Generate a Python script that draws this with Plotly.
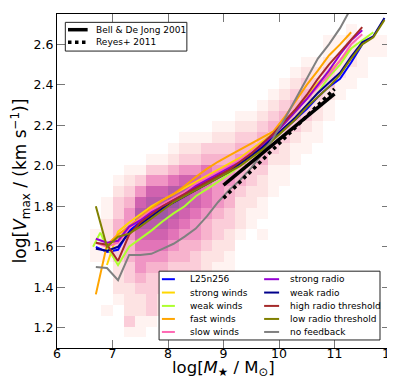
import plotly.graph_objects as go

# 2d histogram behind the lines: 30 x 30 bins, x 6-12 (0.2 wide), y 1.1-2.7
# column -> (first row, shade level 1-9 for each row going up)
n_bins = 30
hist_cols = {
    3: (8, [1, 1, 1]),
    4: (3, [1, 0, 0, 0, 0, 1, 2, 2, 2, 1, 1]),
    5: (2, [0, 0, 1, 2, 2, 2, 3, 3, 4, 4, 3, 3, 2, 1]),
    6: (1, [1, 3, 2, 2, 2, 3, 3, 4, 4, 5, 5, 5, 4, 3, 2, 1]),
    7: (1, [1, 1, 2, 2, 3, 4, 5, 5, 6, 7, 8, 8, 7, 5, 3, 1]),
    8: (2, [1, 3, 3, 3, 3, 4, 5, 6, 7, 8, 9, 8, 7, 5, 3, 1]),
    9: (3, [2, 2, 3, 3, 4, 5, 6, 7, 8, 9, 8, 7, 5, 3, 1]),
    10: (4, [2, 2, 3, 3, 4, 5, 6, 7, 8, 9, 8, 6, 4, 2, 1]),
    11: (5, [2, 2, 3, 4, 4, 5, 6, 7, 8, 8, 7, 5, 3, 2, 1]),
    12: (5, [2, 2, 3, 3, 4, 5, 5, 6, 7, 7, 7, 5, 3, 2, 1]),
    13: (6, [2, 2, 2, 3, 4, 4, 5, 6, 6, 6, 6, 4, 3, 1]),
    14: (6, [1, 1, 2, 2, 3, 3, 4, 5, 5, 5, 5, 4, 3, 2, 1]),
    15: (7, [1, 1, 2, 2, 3, 3, 4, 4, 5, 5, 4, 3, 2, 1]),
    16: (10, [1, 2, 2, 2, 3, 4, 4, 5, 4, 3, 2, 1]),
    17: (11, [1, 1, 2, 2, 3, 3, 4, 4, 3, 2, 1]),
    18: (10, [1, 0, 1, 1, 2, 2, 3, 4, 4, 4, 3, 2, 1]),
    19: (14, [1, 1, 1, 2, 3, 3, 4, 3, 2, 1]),
    20: (15, [1, 1, 2, 2, 3, 4, 4, 3, 2, 1]),
    21: (17, [1, 1, 2, 3, 4, 4, 3, 2, 1]),
    22: (18, [1, 1, 2, 3, 3, 4, 3, 2, 1]),
    23: (19, [1, 1, 2, 2, 3, 3, 2, 1]),
    24: (21, [1, 1, 2, 3, 3, 2, 1, 1]),
    25: (23, [1, 1, 2, 2, 1, 1]),
    26: (24, [1, 1, 2, 2, 2, 1]),
    27: (25, [1, 1, 1, 1]),
    28: (27, [1, 1]),
    29: (27, [1, 1]),
}

mass_bins = [6.7, 6.9, 7.1, 7.3, 7.5, 7.7, 7.9, 8.1, 8.3, 8.5, 8.7, 8.9, 9.1, 9.3,
             9.5, 9.7, 9.9, 10.1, 10.3, 10.5, 10.7, 10.9, 11.1, 11.3, 11.5, 11.7, 11.9]

l25n256 = [1.60, 1.575, 1.585, 1.68, 1.72, 1.76, 1.79, 1.82, 1.85, 1.89, 1.92, 1.95, 1.98,
           2.01, 2.05, 2.09, 2.13, 2.18, 2.23, 2.28, 2.34, 2.39, 2.43, 2.51, 2.60]
strong_winds = [1.51, 1.675, 1.72, 1.76, 1.80, 1.83, 1.86, 1.89, 1.92, 1.95, 1.98, 2.01,
                2.04, 2.08, 2.12, 2.16, 2.21, 2.27, 2.34, 2.41, 2.46, 2.52, 2.58]
weak_winds_x = [6.65, 6.78] + mass_bins[1:26]
weak_winds = [1.60, 1.67, 1.60, 1.51, 1.60, 1.64, 1.68, 1.725, 1.765, 1.80, 1.85, 1.885,
              1.92, 1.96, 2.00, 2.04, 2.08, 2.13, 2.18, 2.24, 2.30, 2.36, 2.44, 2.50, 2.58,
              2.62, 2.66]
fast_winds = [1.365, 1.61, 1.66, 1.70, 1.745, 1.79, 1.83, 1.86, 1.90, 1.945, 1.985, 2.02,
              2.05, 2.08, 2.11, 2.14, 2.17, 2.24, 2.32, 2.40, 2.47, 2.545, 2.60, 2.66]
slow_winds = [1.62, 1.60, 1.62, 1.69, 1.74, 1.78, 1.81, 1.84, 1.87, 1.91, 1.94, 1.97, 2.00,
              2.03, 2.07, 2.11, 2.16, 2.22, 2.28, 2.33, 2.39, 2.45, 2.52, 2.60, 2.65]
strong_radio = [1.64, 1.62, 1.63, 1.70, 1.73, 1.77, 1.80, 1.83, 1.86, 1.90, 1.93, 1.96, 1.99,
                2.02, 2.06, 2.10, 2.15, 2.21, 2.27, 2.33, 2.40, 2.47, 2.55, 2.62, 2.67]
weak_radio = [1.59, 1.58, 1.60, 1.67, 1.71, 1.75, 1.79, 1.82, 1.85, 1.88, 1.91, 1.94, 1.97,
              2.01, 2.05, 2.09, 2.14, 2.19, 2.24, 2.30, 2.36, 2.41, 2.46, 2.54, 2.61, 2.64, 2.73]
high_radio = [1.62, 1.61, 1.53, 1.66, 1.72, 1.76, 1.80, 1.83, 1.86, 1.89, 1.92, 1.95, 1.98,
              2.02, 2.06, 2.11, 2.16, 2.22, 2.28, 2.35, 2.43, 2.50, 2.56, 2.62, 2.685]
low_radio = [1.80, 1.60, 1.65, 1.665, 1.70, 1.74, 1.78, 1.82, 1.85, 1.88, 1.91, 1.94, 1.97,
             2.00, 2.04, 2.08, 2.13, 2.18, 2.23, 2.29, 2.34, 2.39, 2.45, 2.53, 2.60, 2.635, 2.72]
no_feedback = [1.50, 1.495, 1.435, 1.56, 1.56, 1.565, 1.59, 1.615, 1.65, 1.69, 1.75, 1.82,
               1.88, 1.93, 1.99, 2.06, 2.14, 2.23, 2.33, 2.43, 2.53, 2.60, 2.68, 2.78]

bell_x = [9.0, 11.0]
bell_y = [1.905, 2.355]
reyes_x = [9.0, 11.0]
reyes_y = [1.84, 2.38]

z = [[None] * n_bins for _ in range(n_bins)]
for col, (row0, vals) in hist_cols.items():
    for i, v in enumerate(vals):
        if v:
            z[row0 + i][col] = v

shades = [[0.0, '#ffffff'], [0.111, '#fff3f1'], [0.222, '#fde3e3'], [0.333, '#fbcdd9'],
          [0.444, '#f7b3cd'], [0.556, '#f095c4'], [0.667, '#e274b8'], [0.778, '#d062af'],
          [0.889, '#b85ba9'], [1.0, '#9e58a4']]

fig = go.Figure()
fig.add_trace(go.Heatmap(z=z, x0=6.1, dx=0.2, y0=1.1 + 0.8 / 30, dy=1.6 / 30,
                         zmin=0, zmax=9, colorscale=shades, showscale=False,
                         hoverinfo='skip'))

sims = [
    ('L25n256', '#0000ff', mass_bins[:len(l25n256)], l25n256),
    ('strong winds', '#ffd700', mass_bins[1:1 + len(strong_winds)], strong_winds),
    ('weak winds', '#adff2f', weak_winds_x, weak_winds),
    ('fast winds', '#ffa500', mass_bins[:len(fast_winds)], fast_winds),
    ('slow winds', '#ff69b4', mass_bins[:len(slow_winds)], slow_winds),
    ('strong radio', '#9400d3', mass_bins[:len(strong_radio)], strong_radio),
    ('weak radio', '#00008b', mass_bins[:len(weak_radio)], weak_radio),
    ('high radio threshold', '#a52a2a', mass_bins[:len(high_radio)], high_radio),
    ('low radio threshold', '#808000', mass_bins[:len(low_radio)], low_radio),
    ('no feedback', '#808080', mass_bins[:len(no_feedback)], no_feedback),
]
for name, color, xs, ys in sims:
    fig.add_trace(go.Scatter(x=xs, y=ys, mode='lines', name=name, showlegend=False,
                             line=dict(color=color, width=2)))

fig.add_trace(go.Scatter(x=bell_x, y=bell_y, mode='lines', showlegend=False,
                         line=dict(color='black', width=3.5)))
fig.add_trace(go.Scatter(x=reyes_x, y=reyes_y, mode='lines', showlegend=False,
                         line=dict(color='black', width=3.5, dash='dot')))

# hand drawn legends (matplotlib style boxes)
shapes = []
annotations = []
font = dict(family='DejaVu Sans', size=9, color='black')

shapes.append(dict(type='rect', xref='paper', yref='paper', x0=0.025, x1=0.39,
                   y0=0.889, y1=0.975, fillcolor='white', line=dict(color='#222', width=1),
                   layer='above'))
for yy, label, dash in [(0.953, 'Bell & De Jong 2001', 'solid'), (0.9155, 'Reyes+ 2011', 'dot')]:
    shapes.append(dict(type='line', xref='paper', yref='paper', x0=0.033, x1=0.092,
                       y0=yy, y1=yy, line=dict(color='black', width=3.5, dash=dash),
                       layer='above'))
    annotations.append(dict(text=label, xref='paper', yref='paper', x=0.112, y=yy,
                            xanchor='left', yanchor='middle', showarrow=False, font=font))

shapes.append(dict(type='rect', xref='paper', yref='paper', x0=0.3065, x1=0.97,
                   y0=0.024, y1=0.23, fillcolor='white', line=dict(color='#222', width=1),
                   layer='above'))
rows_y = [0.206, 0.166, 0.126, 0.087, 0.048]
for i, (name, color, xs, ys) in enumerate(sims):
    col = i // 5
    yy = rows_y[i % 5]
    lx0, lx1, tx = (0.315, 0.354, 0.393) if col == 0 else (0.622, 0.667, 0.6925)
    shapes.append(dict(type='line', xref='paper', yref='paper', x0=lx0, x1=lx1,
                       y0=yy, y1=yy, line=dict(color=color, width=2), layer='above'))
    annotations.append(dict(text=name, xref='paper', yref='paper', x=tx, y=yy,
                            xanchor='left', yanchor='middle', showarrow=False, font=font))

# x axis title placed by hand so it fits in the short bottom margin
annotations.append(dict(text='log[<i>M</i><sub>★</sub> / M<sub>⊙</sub>]',
                        xref='paper', yref='paper', x=0.5, y=-0.06, xanchor='center',
                        yanchor='middle', showarrow=False,
                        font=dict(family='DejaVu Sans', size=16.5, color='black')))

axis_common = dict(showgrid=False, zeroline=False, showline=True, linecolor='black',
                   linewidth=1, mirror='allticks', ticks='inside', ticklen=8,
                   tickcolor='#777', tickfont=dict(family='DejaVu Sans', size=12.5,
                                                   color='black'))

fig.update_layout(
    width=395, height=379,
    margin=dict(l=49, r=10, t=5, b=39),
    plot_bgcolor='white', paper_bgcolor='white',
    font=dict(family='DejaVu Sans', color='black'),
    shapes=shapes, annotations=annotations,
    xaxis=dict(range=[6, 12], tickvals=[6, 7, 8, 9, 10, 11, 12], ticklabelstandoff=-6,
               **axis_common),
    yaxis=dict(range=[1.1, 2.75], tickvals=[1.2, 1.4, 1.6, 1.8, 2.0, 2.2, 2.4, 2.6],
               tickformat='.1f',
               title=dict(text='log[<i>V</i><sub>max</sub> / (km s<sup>−1</sup>)]',
                          font=dict(size=17), standoff=4),
               **axis_common),
)

fig.write_html('out.html')
